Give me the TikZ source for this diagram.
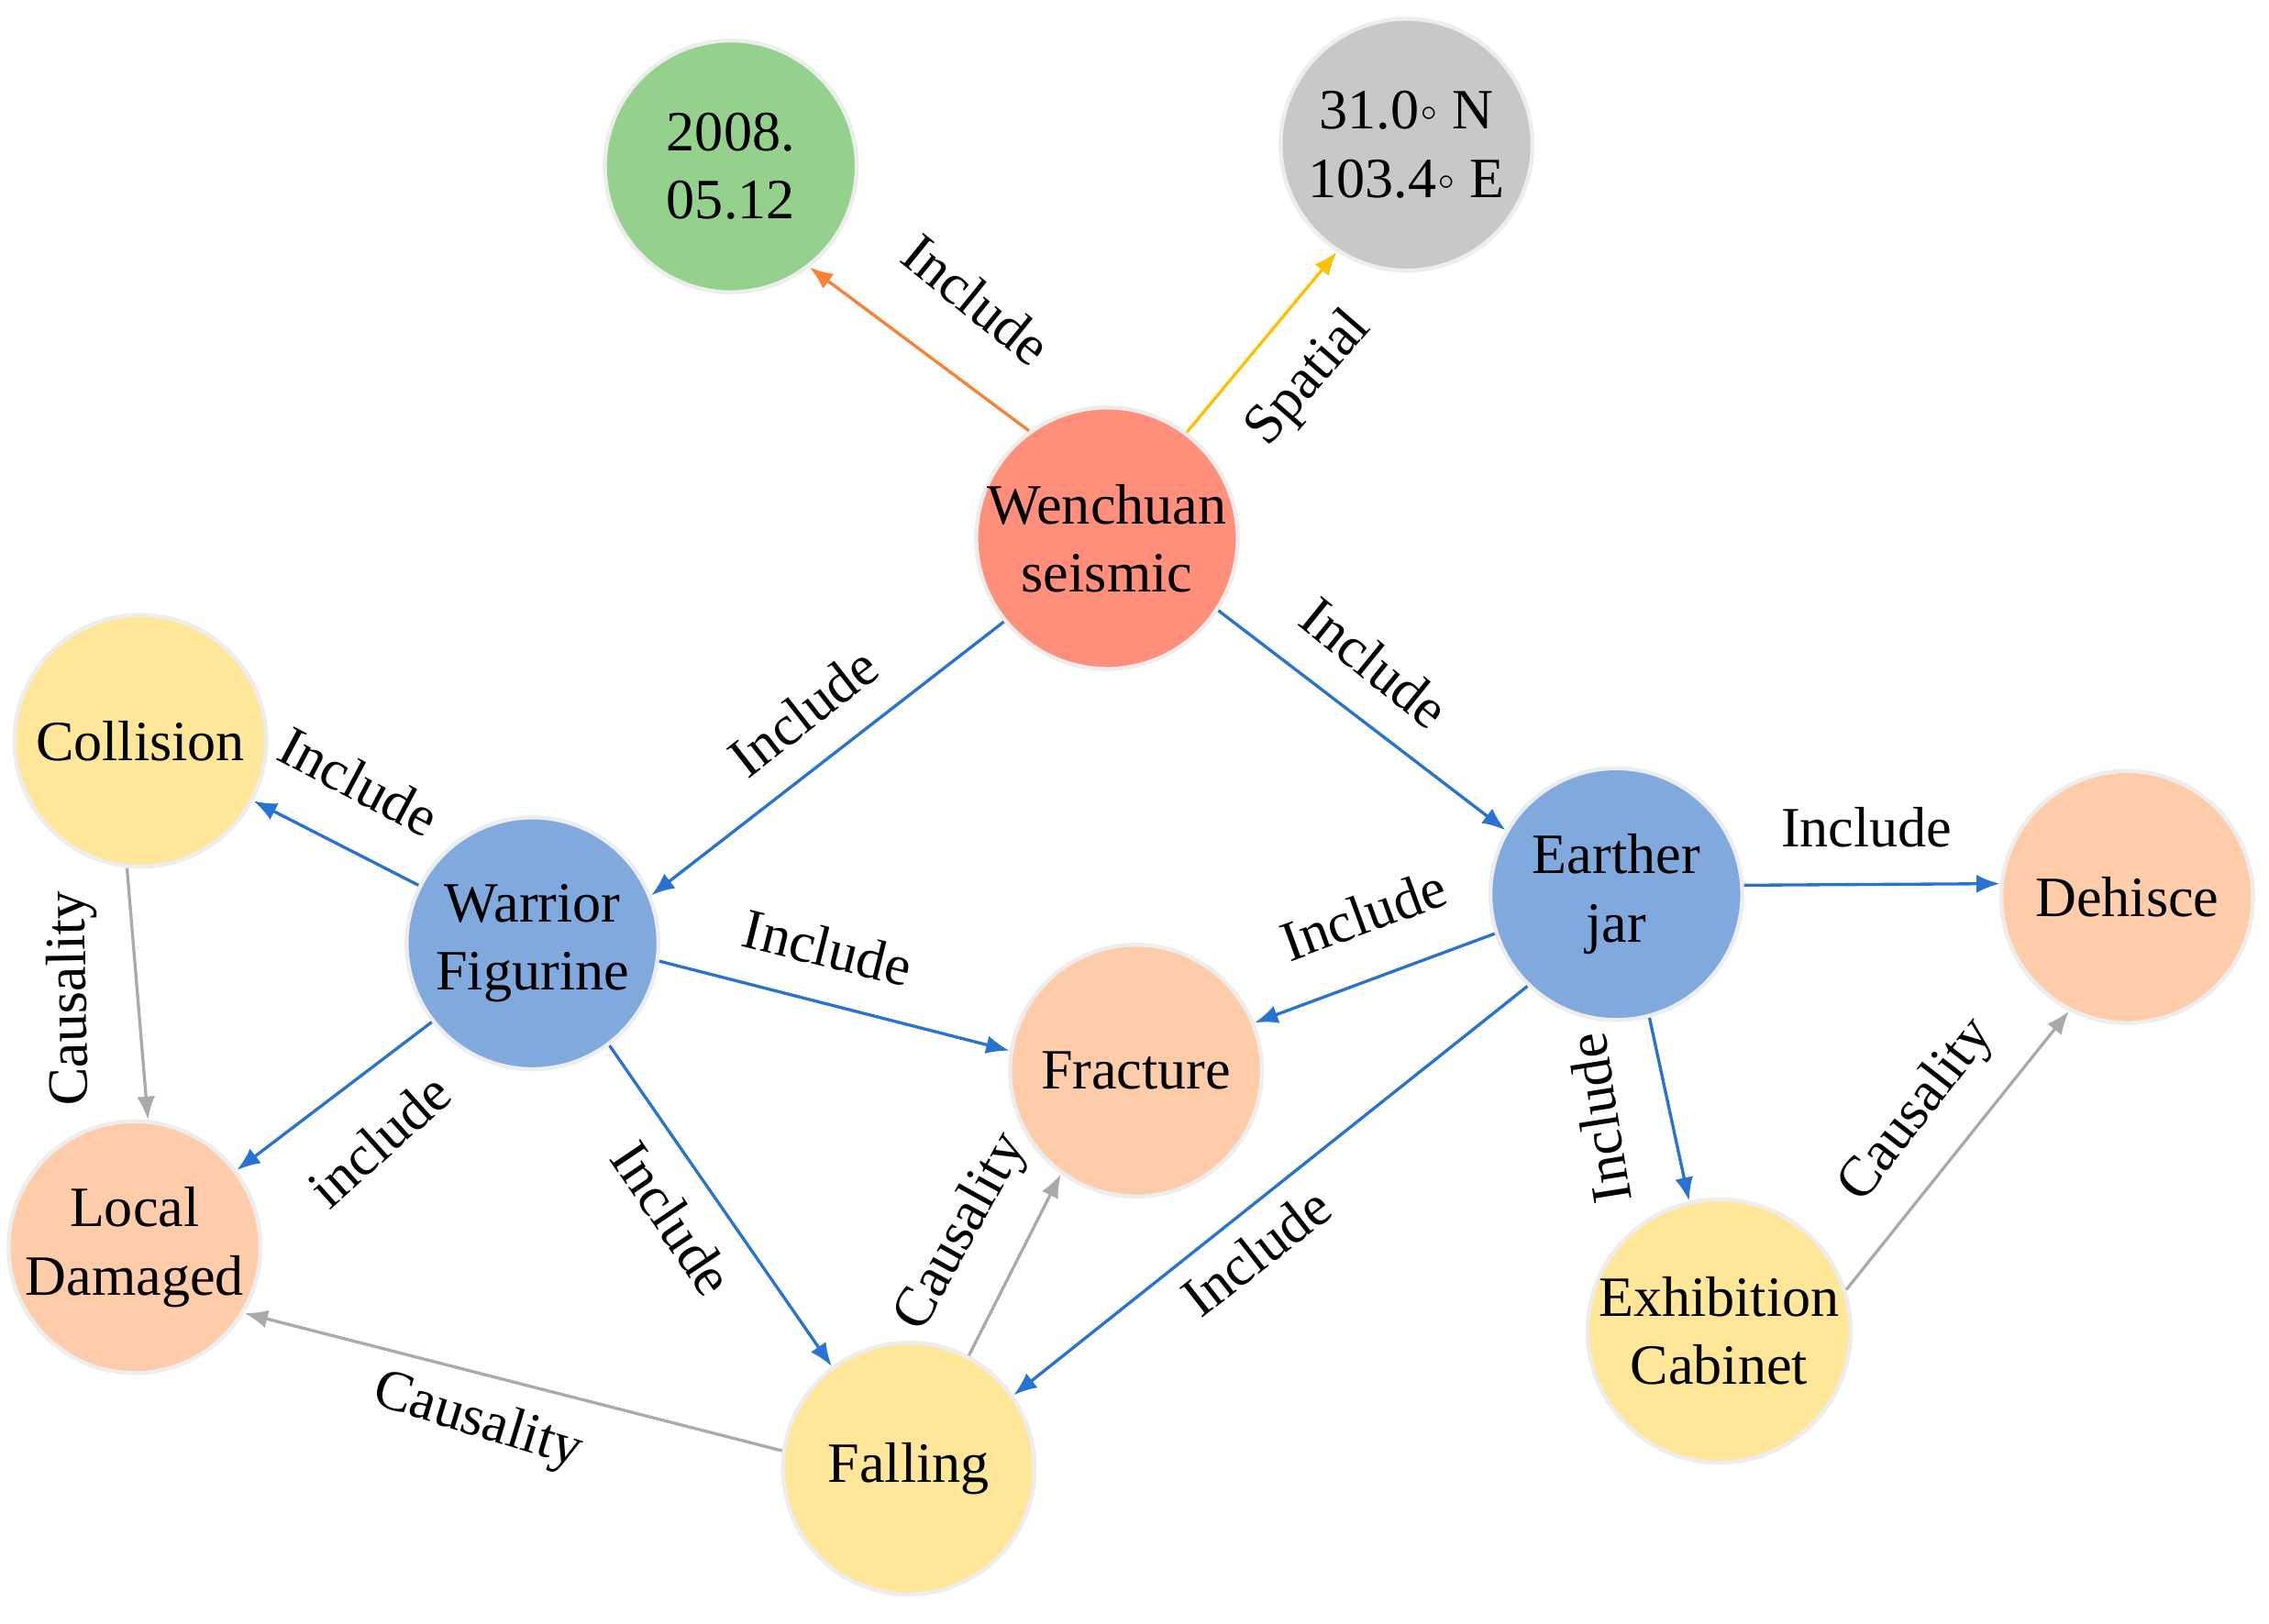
\documentclass[tikz,border=0pt]{standalone}
\usepackage{fontspec}
\setmainfont{Liberation Serif}
\usetikzlibrary{arrows.meta}
\definecolor{cgreen}{RGB}{148,209,140}
\definecolor{cgray}{RGB}{200,200,200}
\definecolor{csalmon}{RGB}{255,143,122}
\definecolor{cblue}{RGB}{128,170,222}
\definecolor{cyellow}{RGB}{255,230,153}
\definecolor{cpeach}{RGB}{255,204,170}
\definecolor{ablue}{RGB}{40,115,210}
\definecolor{aorange}{RGB}{250,128,50}
\definecolor{ayellow}{RGB}{255,192,0}
\definecolor{agray}{RGB}{170,170,170}
\begin{document}
\begin{tikzpicture}[x=0.01cm,y=-0.01cm,
  ent/.style={circle, minimum size=1.74cm, inner sep=0pt, align=center,
    font=\fontsize{11.2}{13.4}\selectfont, draw=black!7, line width=0.8pt},
  lbl/.style={font=\fontsize{11.2}{13.4}\selectfont, inner sep=0pt},
  rel/.style={-{Latex[length=4.6pt,width=3.6pt]}, line width=0.6pt},
  incl/.style={rel, ablue},
  caus/.style={rel, agray},
]
\useasboundingbox (0,0) rectangle (1568,1122);
\newcommand{\dg}{\raisebox{0.35ex}{\tiny$\circ$}}
% nodes
\node[ent, fill=cgreen] (date) at (505,115) {2008.\\05.12};
\node[ent, fill=cgray] (geo) at (972,100) {31.0\dg\ N\\103.4\dg\ E};
\node[ent, fill=csalmon] (wen) at (765,372) {Wenchuan\\seismic};
\node[ent, fill=cyellow] (col) at (97,512) {Collision};
\node[ent, fill=cblue] (war) at (368,652) {Warrior\\Figurine};
\node[ent, fill=cblue] (jar) at (1117,618) {Earther\\jar};
\node[ent, fill=cpeach] (deh) at (1470,620) {Dehisce};
\node[ent, fill=cpeach] (fra) at (785,740) {Fracture};
\node[ent, fill=cpeach] (loc) at (93,862) {Local\\Damaged};
\node[ent, fill=cyellow] (fal) at (628,1015) {Falling};
\node[ent, fill=cyellow] (exh) at (1188,920) {Exhibition\\Cabinet};
% edges
\draw[rel, aorange] (wen.126) -- (date.-52);
\draw[rel, ayellow] (wen.53) -- (geo.-123);
\draw[incl] (wen.-141) -- (war.22);
\draw[incl] (wen.-33) -- (jar.150);
\draw[incl] (war.153) -- (col.-28);
\draw[incl] (war.-8.5) -- (fra.171.6);
\draw[incl] (war.-142) -- (loc.37);
\draw[incl] (war.-53.5) -- (fal.127);
\draw[incl] (jar.-162) -- (fra.22);
\draw[incl] (jar.4) -- (deh.174);
\draw[incl] (jar.-134) -- (fal.35.5);
\draw[incl] (jar.-75) -- (exh.103);
\draw[caus] (col.-96) -- (loc.84);
\draw[caus] (fal.172) -- (loc.-31);
\draw[caus] (fal.62) -- (fra.-126);
\draw[caus] (exh.18) -- (deh.-117);
% labels
\node[lbl, rotate=-39] (l1) at (675,207) {Include};
\node[lbl, rotate=49] (l2) at (905,262) {Spatial};
\node[lbl, rotate=38] (l3) at (555,492) {Include};
\node[lbl, rotate=-39] (l4) at (950,458) {Include};
\node[lbl, rotate=-28] (l5) at (248,540) {Include};
\node[lbl, rotate=-14] (l6) at (572,655) {Include};
\node[lbl, rotate=42] (l7) at (262,788) {include};
\node[lbl, rotate=-56] (l8) at (465,842) {Include};
\node[lbl, rotate=20] (l9) at (942,632) {Include};
\node[lbl] (l10) at (1290,572) {Include};
\node[lbl, rotate=38] (l11) at (868,865) {Include};
\node[lbl, rotate=99] (l12) at (1105,773) {Include};
\node[lbl, rotate=91] (l13) at (50,690) {Causality};
\node[lbl, rotate=-17] (l14) at (330,983) {Causality};
\node[lbl, rotate=61] (l15) at (665,852) {Causality};
\node[lbl, rotate=52] (l16) at (1325,768) {Causality};
\end{tikzpicture}
\end{document}
